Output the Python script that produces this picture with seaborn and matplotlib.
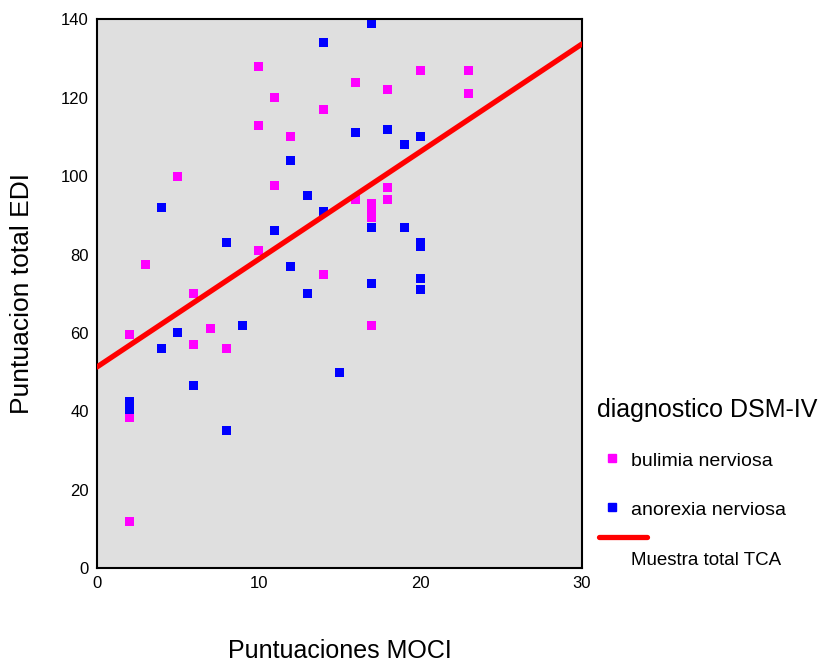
import pandas as pd
import seaborn as sns
import matplotlib.pyplot as plt
from matplotlib.lines import Line2D

# scores
bul_moci = [10, 11, 12, 10, 11, 5, 3, 6, 7, 6, 8, 2, 2, 2, 14, 16, 18, 20, 23, 23,
            16, 18, 18, 17, 17, 17, 14, 17, 10]
bul_edi = [128, 120, 110, 113, 97.5, 100, 77.5, 70, 61, 57, 56, 59.5, 38.5, 12, 117, 124,
           122, 127, 127, 121, 94, 97, 94, 93, 91, 89.5, 75, 62, 81]
ano_moci = [17, 14, 16, 18, 19, 20, 12, 13, 14, 11, 4, 8, 12, 13, 17, 19, 20, 20, 20, 20,
            17, 9, 5, 4, 6, 15, 8, 2, 2]
ano_edi = [139, 134, 111, 112, 108, 110, 104, 95, 91, 86, 92, 83, 77, 70, 87, 87, 83, 82,
           74, 71, 72.5, 62, 60, 56, 46.5, 50, 35, 42.5, 40.5]

df = pd.DataFrame({
    'moci': bul_moci + ano_moci,
    'edi': bul_edi + ano_edi,
    'diag': ['bulimia nerviosa'] * len(bul_moci) + ['anorexia nerviosa'] * len(ano_moci),
})

sns.set_style('white')
plt.rcParams['font.family'] = ['Liberation Sans', 'DejaVu Sans']
plt.rcParams['text.color'] = 'black'
plt.rcParams['axes.labelcolor'] = 'black'
plt.rcParams['xtick.color'] = 'black'
plt.rcParams['ytick.color'] = 'black'

fig = plt.figure(figsize=(8.22, 6.66), dpi=100)
ax = fig.add_axes([0.118, 0.147, 0.590, 0.824])
ax.set_facecolor('#dfdfdf')
ax.set_xlim(0, 30)
ax.set_ylim(0, 140)

colors = {'bulimia nerviosa': '#ff00ff', 'anorexia nerviosa': '#0000ff'}
sns.scatterplot(data=df, x='moci', y='edi', hue='diag', palette=colors, marker='s',
                s=42, linewidth=0, legend=False, ax=ax, zorder=2)
# total sample fit line
sns.regplot(data=df, x='moci', y='edi', scatter=False, ci=None, truncate=False,
            line_kws={'color': '#ff0000', 'lw': 3.8, 'zorder': 3}, ax=ax)
ax.set_xlim(0, 30)
ax.set_ylim(0, 140)

ax.set_xticks([0, 10, 20, 30])
ax.set_yticks(range(0, 141, 20))
ax.tick_params(direction='out', length=4, width=2, color='black', labelsize=12, pad=2)
for s in ax.spines.values():
    s.set_color('black')
    s.set_linewidth(1.5)

ax.set_xlabel('Puntuaciones MOCI', fontsize=18, labelpad=34)
ax.set_ylabel('Puntuacion total EDI', fontsize=19, labelpad=19)

# legend built by hand (SPSS style)
fig.text(0.726, 0.384, 'diagnostico DSM-IV', fontsize=18, va='center')
fig.add_artist(Line2D([0.745], [0.312], marker='s', color='#ff00ff', ms=6, lw=0))
fig.text(0.768, 0.307, 'bulimia nerviosa', fontsize=14, va='center')
fig.add_artist(Line2D([0.745], [0.238], marker='s', color='#0000ff', ms=6, lw=0))
fig.text(0.768, 0.233, 'anorexia nerviosa', fontsize=14, va='center')
fig.add_artist(Line2D([0.729, 0.787], [0.194, 0.194], color='#ff0000', lw=3.8))
fig.text(0.768, 0.159, 'Muestra total TCA', fontsize=13.5, va='center')

fig.savefig('out.png', dpi=100)
